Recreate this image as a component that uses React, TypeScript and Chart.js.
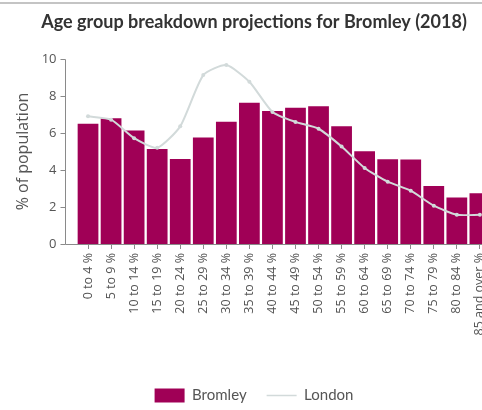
import React, { useEffect, useRef } from "react";
import { Chart, registerables } from "chart.js";

Chart.register(...registerables);

const TITLE = "Age group breakdown projections for Bromley (2018)";
const Y_TITLE = "% of population";
const CATEGORIES = [
  "0 to 4 %", "5 to 9 %", "10 to 14 %", "15 to 19 %", "20 to 24 %", "25 to 29 %",
  "30 to 34 %", "35 to 39 %", "40 to 44 %", "45 to 49 %", "50 to 54 %", "55 to 59 %",
  "60 to 64 %", "65 to 69 %", "70 to 74 %", "75 to 79 %", "80 to 84 %", "85 and over %",
];
const BROMLEY = [6.5, 6.8, 6.14, 5.13, 4.6, 5.76, 6.61, 7.63, 7.19, 7.37, 7.45, 6.36, 5.02, 4.58, 4.57, 3.13, 2.52, 2.75];
const LONDON = [6.9, 6.72, 5.72, 5.2, 6.36, 9.13, 9.67, 8.77, 7.14, 6.6, 6.23, 5.27, 4.11, 3.37, 2.88, 2.07, 1.58, 1.58];
const Y_TICKS = [0, 2, 4, 6, 8, 10];
const SERIES_NAMES = ["Bromley", "London"];

const BAR_COLOR = "#a00056";
const LINE_COLOR = "#d2dada";
const AXIS_COLOR = "#8a8a8a";
const TEXT_COLOR = "#555555";

const axisPlugin = {
  id: "customYAxis",
  afterDraw(chart: any) {
    const { ctx, chartArea, scales } = chart;
    const y = scales.y;
    const ax = Math.round(chartArea.left - 12) + 0.5;
    const y0 = Math.round(y.getPixelForValue(0)) + 0.5;
    ctx.save();
    ctx.strokeStyle = AXIS_COLOR;
    ctx.lineWidth = 1;
    ctx.beginPath();
    ctx.moveTo(ax, Math.round(y.getPixelForValue(y.max)) + 0.5);
    ctx.lineTo(ax, y0);
    y.ticks.forEach((t: any) => {
      const py = Math.round(y.getPixelForValue(t.value)) + 0.5;
      ctx.moveTo(ax - 5, py);
      ctx.lineTo(ax, py);
    });
    ctx.moveTo(ax, y0);
    ctx.lineTo(chartArea.right, y0);
    ctx.stroke();
    ctx.restore();
  },
};

export default function App() {
  const canvasRef = useRef<HTMLCanvasElement | null>(null);

  useEffect(() => {
    if (!canvasRef.current) return;
    const chart = new Chart(canvasRef.current, {
      type: "bar",
      data: {
        labels: CATEGORIES,
        datasets: [
          {
            type: "bar",
            label: SERIES_NAMES[0],
            data: BROMLEY,
            backgroundColor: BAR_COLOR,
            barPercentage: 0.9,
            categoryPercentage: 1,
            order: 1,
          },
          {
            type: "line",
            label: SERIES_NAMES[1],
            data: LONDON,
            borderColor: LINE_COLOR,
            backgroundColor: LINE_COLOR,
            borderWidth: 2,
            pointRadius: 2,
            pointBackgroundColor: LINE_COLOR,
            pointBorderWidth: 0,
            tension: 0.2,
            order: 0,
          } as any,
        ],
      },
      plugins: [axisPlugin],
      options: {
        animation: false,
        responsive: true,
        maintainAspectRatio: false,
        layout: { padding: { left: 9, right: 0, top: 0, bottom: 0 } },
        plugins: {
          title: {
            display: true,
            text: TITLE,
            color: "#333333",
            font: { family: "Lato", size: 18, weight: "bold" },
            padding: { top: 11.2, bottom: 26.2 },
          },
          legend: {
            display: true,
            position: "bottom",
            labels: {
              color: TEXT_COLOR,
              font: { family: "Lato", size: 15 },
              usePointStyle: true,
              pointStyleWidth: 30,
              boxHeight: 14,
              padding: 20,
              generateLabels: () => [
                {
                  text: SERIES_NAMES[0],
                  fillStyle: BAR_COLOR,
                  strokeStyle: BAR_COLOR,
                  lineWidth: 0,
                  pointStyle: "rect",
                  datasetIndex: 0,
                  fontColor: TEXT_COLOR,
                } as any,
                {
                  text: SERIES_NAMES[1],
                  fillStyle: LINE_COLOR,
                  strokeStyle: LINE_COLOR,
                  lineWidth: 1.5,
                  pointStyle: "line",
                  datasetIndex: 1,
                  fontColor: TEXT_COLOR,
                } as any,
              ],
            },
          },
          tooltip: { enabled: false },
        },
        scales: {
          x: {
            offset: true,
            grid: {
              display: true,
              drawOnChartArea: false,
              drawTicks: true,
              tickLength: 5,
              offset: false,
              color: AXIS_COLOR,
            },
            border: { display: false },
            ticks: {
              autoSkip: false,
              maxRotation: 90,
              minRotation: 90,
              padding: 4,
              color: TEXT_COLOR,
              font: { family: "Open Sans", size: 12.5 },
            },
            afterFit: (scale: any) => {
              scale.height = 124;
            },
          },
          y: {
            min: 0,
            max: 10,
            afterBuildTicks: (scale: any) => {
              scale.ticks = Y_TICKS.map((v) => ({ value: v }));
            },
            grid: { display: false },
            border: { display: false },
            ticks: {
              padding: 12,
              color: TEXT_COLOR,
              font: { family: "Open Sans", size: 13 },
            },
            title: {
              display: true,
              text: Y_TITLE,
              color: TEXT_COLOR,
              font: { family: "Open Sans", size: 16 },
              padding: { top: 4.4, bottom: 0 },
            },
            afterFit: (scale: any) => {
              scale.width = 67.5;
            },
          },
        },
      },
    });
    return () => chart.destroy();
  }, []);

  return (
    <div
      style={{
        position: "fixed",
        left: 0,
        top: 0,
        width: 482,
        height: 410,
        overflow: "hidden",
        background: "#ffffff",
      }}
    >
      <div
        style={{
          position: "absolute",
          left: 0,
          top: 2,
          width: 482,
          height: 2,
          background: "#c4c4c4",
          zIndex: 1,
        }}
      />
      <div style={{ position: "absolute", left: 0, top: 0, width: 499, height: 413 }}>
        <canvas ref={canvasRef} />
      </div>
    </div>
  );
}
